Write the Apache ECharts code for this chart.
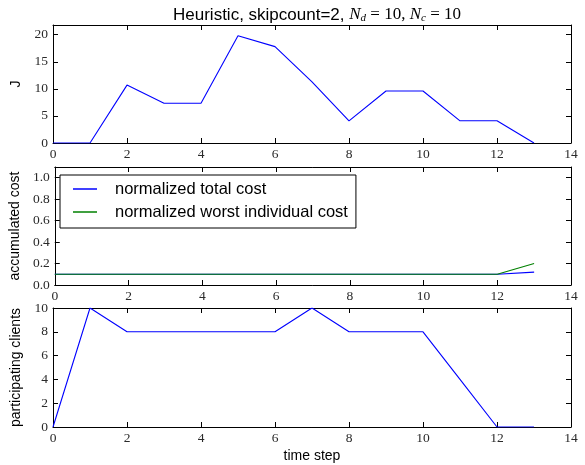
<!DOCTYPE html>
<html><head><meta charset="utf-8">
<script src="https://cdn.jsdelivr.net/npm/echarts@6/dist/echarts.min.js"></script>
<style>html,body{margin:0;padding:0;background:#fff}#c{width:585px;height:465px}</style>
</head><body><div id="c"></div>
<script>
var timeSteps = [0,1,2,3,4,5,6,7,8,9,10,11,12,13];
var costJ = [0,0,10.7,7.35,7.35,19.8,17.8,11.3,4.1,9.6,9.6,4.1,4.1,0];
var totalCost = [0.1,0.1,0.1,0.1,0.1,0.1,0.1,0.1,0.1,0.1,0.1,0.1,0.1,0.12];
var worstCost = [0.1,0.1,0.1,0.1,0.1,0.1,0.1,0.1,0.1,0.1,0.1,0.1,0.1,0.2];
var clients = [0,10,8,8,8,8,8,10,8,8,8,4,0,0];
var xTicks = [0,2,4,6,8,10,12,14];

function pairs(ys){return timeSteps.map(function(t,i){return [t,ys[i]];});}

var chart = echarts.init(document.getElementById('c'));
var serif = 'Liberation Serif';
var sans = 'Liberation Sans';
var tickColor = '#2a2a2a';
var grids = [
  {left:53, width:518, top:25, height:118},
  {left:53, width:518, top:167, height:118},
  {left:53, width:518, top:308, height:119}
];
var yCfg = [
  {min:0,max:21.8,interval:5,name:'J',gap:21,fmt:function(v){return String(v);}},
  {min:0,max:1.1,interval:0.2,name:'accumulated cost',gap:30,fmt:function(v){return v.toFixed(1);}},
  {min:0,max:10,interval:2,name:'participating clients',gap:30,fmt:function(v){return String(v);}}
];
var xAxes=[], yAxes=[];
var lineStyleAxis = {color:'#000', width:1};
for (var g=0; g<3; g++){
  xAxes.push({gridIndex:g,type:'value',min:0,max:14,interval:2,position:'bottom',
    axisLine:{onZero:false,lineStyle:lineStyleAxis},
    axisTick:{inside:true,length:5,lineStyle:{color:'#000'}},
    axisLabel:{fontFamily:serif,fontSize:13.5,color:tickColor,margin:4},
    splitLine:{show:false},
    name: g===2?'time step':'', nameLocation:'middle', nameGap:22,
    nameTextStyle:{fontFamily:sans,fontSize:14,color:'#000'}});
  xAxes.push({gridIndex:g,type:'value',min:0,max:14,interval:2,position:'top',
    axisLine:{onZero:false,lineStyle:lineStyleAxis},
    axisTick:{inside:true,length:5,lineStyle:{color:'#000'}},
    axisLabel:{show:false},splitLine:{show:false}});
  var c = yCfg[g];
  yAxes.push({gridIndex:g,type:'value',min:c.min,max:c.max,interval:c.interval,position:'left',
    axisLine:{onZero:false,lineStyle:lineStyleAxis},
    axisTick:{inside:true,length:5,lineStyle:{color:'#000'}},
    axisLabel:{fontFamily:serif,fontSize:13.5,color:tickColor,margin:5,formatter:c.fmt,showMaxLabel:g===2},
    splitLine:{show:false},
    name:c.name,nameLocation:'middle',nameGap:c.gap,
    nameTextStyle:{fontFamily:sans,fontSize:14,color:'#000'}});
  yAxes.push({gridIndex:g,type:'value',min:c.min,max:c.max,interval:c.interval,position:'right',
    axisLine:{onZero:false,lineStyle:lineStyleAxis},
    axisTick:{inside:true,length:5,lineStyle:{color:'#000'}},
    axisLabel:{show:false},splitLine:{show:false}});
}
function ser(name,data,g,color){
  return {name:name,type:'line',xAxisIndex:g*2,yAxisIndex:g*2,data:pairs(data),
    symbol:'none',lineStyle:{color:color,width:1.1},itemStyle:{color:color},animation:false};
}
chart.setOption({
  animation:false,
  title:{text:'Heuristic, skipcount=2, {i|N}{s|d}{m| = 10, }{i|N}{s|c}{m| = 10}',
    left:312,top:1,textAlign:'center',
    textStyle:{fontFamily:sans,fontSize:17,fontWeight:'normal',color:'#000',
      rich:{i:{fontFamily:serif,fontStyle:'italic',fontSize:17,color:'#000'},
            s:{fontFamily:serif,fontStyle:'italic',fontSize:11,color:'#000',verticalAlign:'bottom',padding:[7,0,0,0]},
            m:{fontFamily:serif,fontSize:17,color:'#000'}}}},
  grid:grids,
  xAxis:xAxes,
  yAxis:yAxes,
  legend:{data:['normalized total cost','normalized worst individual cost'],
    left:60,top:175,orient:'vertical',itemGap:5,itemWidth:24,itemHeight:1.5,
    padding:[5,8,7,13],
    borderColor:'#000',borderWidth:1,backgroundColor:'#fff',
    icon:'rect',
    textStyle:{fontFamily:sans,fontSize:16.5,lineHeight:18,color:'#000',padding:[0,0,0,13]}},
  series:[
    ser('J',costJ,0,'#0000ff'),
    ser('normalized total cost',totalCost,1,'#0000ff'),
    ser('normalized worst individual cost',worstCost,1,'#008000'),
    ser('participating clients',clients,2,'#0000ff')
  ]
});
</script></body></html>
